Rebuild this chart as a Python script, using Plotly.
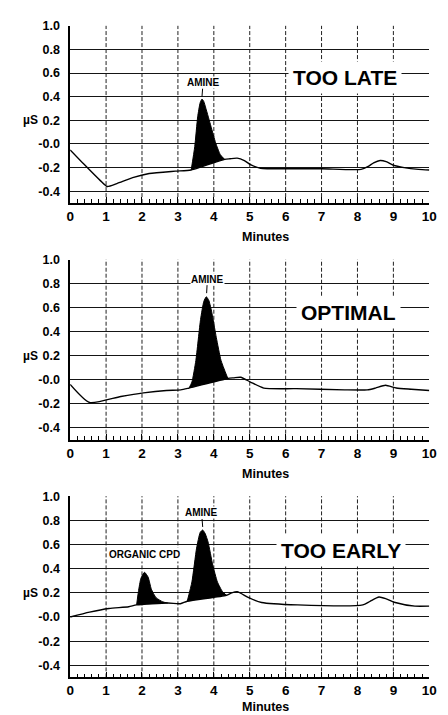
import plotly.graph_objects as go

# ---------------- data ----------------
# Panel 1: TOO LATE
late_x = [0, 0.38, 0.84, 1.03, 1.3, 1.74, 2.2, 2.93, 3.37, 4.3, 4.45, 4.65, 4.85, 5.05, 5.3,
          6, 7, 8.1, 8.3, 8.45, 8.63, 8.8, 9.0, 9.3, 9.7, 10]
late_y = [-0.05, -0.17, -0.31, -0.36, -0.335, -0.285, -0.25, -0.23, -0.22, -0.13, -0.125, -0.12,
          -0.14, -0.18, -0.205, -0.21, -0.21, -0.215, -0.19, -0.16, -0.14, -0.15, -0.18, -0.2,
          -0.215, -0.22]
late_amine_x = [3.37, 3.47, 3.55, 3.62, 3.67, 3.72, 3.78, 3.92, 4.05, 4.18, 4.3]
late_amine_y = [-0.22, -0.02, 0.23, 0.35, 0.38, 0.36, 0.30, 0.15, 0.01, -0.09, -0.13]

# Panel 2: OPTIMAL
opt_x = [0, 0.54, 1.41, 2.04, 2.68, 3.08, 3.31, 4.39, 4.55, 4.75, 5.02, 5.39, 6.29, 7.64,
         8.27, 8.5, 8.78, 9.08, 9.5, 10]
opt_y = [-0.04, -0.19, -0.14, -0.11, -0.09, -0.085, -0.07, 0.01, 0.015, 0.02, -0.02, -0.07,
         -0.075, -0.085, -0.085, -0.07, -0.047, -0.07, -0.08, -0.09]
opt_amine_x = [3.31, 3.39, 3.5, 3.63, 3.72, 3.79, 3.86, 3.93, 4.07, 4.2, 4.39]
opt_amine_y = [-0.07, -0.02, 0.16, 0.5, 0.65, 0.69, 0.66, 0.58, 0.35, 0.16, 0.01]

# Panel 3: TOO EARLY
early_x = [0, 0.54, 1.08, 1.63, 1.85, 2.72, 3.07, 3.26, 4.35, 4.5, 4.65, 4.97, 5.33, 6.33,
           8.15, 8.35, 8.6, 8.8, 9.05, 9.6, 10]
early_y = [0.0, 0.04, 0.07, 0.085, 0.1, 0.115, 0.11, 0.13, 0.18, 0.2, 0.21, 0.16, 0.12, 0.1,
           0.1, 0.13, 0.165, 0.15, 0.12, 0.09, 0.09]
early_org_x = [1.85, 1.9, 1.97, 2.07, 2.17, 2.26, 2.39, 2.58, 2.72]
early_org_y = [0.1, 0.21, 0.32, 0.37, 0.33, 0.23, 0.16, 0.125, 0.115]
early_amine_x = [3.26, 3.39, 3.52, 3.62, 3.69, 3.76, 3.84, 3.97, 4.1, 4.24, 4.35]
early_amine_y = [0.13, 0.29, 0.57, 0.70, 0.72, 0.69, 0.62, 0.43, 0.29, 0.21, 0.18]

# axes / ticks
y_tick_vals = [1.0, 0.8, 0.6, 0.4, 0.2, 0.0, -0.2, -0.4]
y_tick_text = ["1.0", "0.8", "0.6", "0.4", "0.2", "-0.0", "-0.2", "-0.4"]
y_grid_vals = [0.8, 0.6, 0.4, 0.2, 0.0, -0.2, -0.4]
x_tick_vals = [0, 1, 2, 3, 4, 5, 6, 7, 8, 9, 10]
x_tick_text = ["0", "1", "2", "3", "4", "5", "6", "7", "8", "9", "10"]
x_minor_vals = [i / 5 for i in range(0, 51)]
x_grid_vals = [1, 2, 3, 4, 5, 6, 7, 8, 9]

panel_titles = ["TOO LATE", "OPTIMAL", "TOO EARLY"]
title_pos = [(7.64, 0.565), (7.75, 0.56), (7.55, 0.55)]
amine_label = [(3.67, 0.40, 3.7), (3.8, 0.72, 3.82), (3.69, 0.745, 3.66)]
organic_label = (2.07, 0.52)
minutes_shift = [-34, -34, -30]

# ---------------- figure ----------------
FONT = "Liberation Sans, Arial, Helvetica, sans-serif"
W, H = 448, 715
x_dom = [68 / W, 437 / W]
y_doms = [[1 - 198 / H, 1 - 19 / H], [1 - 437 / H, 1 - 255 / H], [1 - 677 / H, 1 - 494 / H]]

fig = go.Figure()

series = [
    (late_x, late_y, [(late_amine_x, late_amine_y)]),
    (opt_x, opt_y, [(opt_amine_x, opt_amine_y)]),
    (early_x, early_y, [(early_org_x, early_org_y), (early_amine_x, early_amine_y)]),
]

for i, (bx, by, peaks) in enumerate(series):
    sfx = "" if i == 0 else str(i + 1)
    xa, ya = "x" + sfx, "y" + sfx
    for px, py in peaks:
        fig.add_trace(go.Scatter(x=px, y=py, xaxis=xa, yaxis=ya, mode="lines",
                                 fill="toself", fillcolor="black",
                                 line=dict(color="black", width=1, shape="spline", smoothing=0.5),
                                 hoverinfo="skip", showlegend=False))
    fig.add_trace(go.Scatter(x=bx, y=by, xaxis=xa, yaxis=ya, mode="lines",
                             line=dict(color="black", width=1.4, shape="spline", smoothing=0.6),
                             showlegend=False))

    fig.layout["xaxis" + sfx] = dict(
        domain=x_dom, range=[0, 10], anchor=ya,
        tickmode="array", tickvals=x_tick_vals, ticktext=x_tick_text,
        ticks="inside", ticklen=6, tickwidth=1.2, tickcolor="black",
        showgrid=False, zeroline=False,
        showline=True, linecolor="black", linewidth=1.6,
        tickfont=dict(family=FONT, size=13.5, color="black", weight="bold"),
        minor=dict(tickmode="array", tickvals=x_minor_vals, ticks="inside",
                   ticklen=4, tickwidth=1, tickcolor="black", showgrid=False),
    )
    fig.layout["yaxis" + sfx] = dict(
        domain=y_doms[i], range=[-0.5, 1.0], anchor=xa,
        tickmode="array", tickvals=y_tick_vals, ticktext=y_tick_text,
        ticks="", ticklabelstandoff=6,
        showgrid=False, zeroline=False,
        showline=True, linecolor="black", linewidth=1.6,
        tickfont=dict(family=FONT, size=12.5, color="black", weight="bold"),
        minor=dict(tickmode="array", tickvals=y_grid_vals, ticks="",
                   showgrid=True, gridcolor="#151515", gridwidth=1.2),
    )

    for gx in x_grid_vals:
        fig.add_shape(type="line", xref=xa, yref=ya + " domain", x0=gx, x1=gx, y0=0, y1=1,
                      line=dict(color="#222222", width=1, dash="4px,2px"), layer="below")

    tx, ty = title_pos[i]
    fig.add_annotation(xref=xa, yref=ya, x=tx, y=ty, text=panel_titles[i], showarrow=False,
                       bgcolor="white", borderpad=4,
                       font=dict(family=FONT, size=21, color="black", weight="bold"))

    ax_, ay_, tx_ = amine_label[i]
    fig.add_annotation(xref=xa, yref=ya, x=ax_, y=ay_, text="AMINE", showarrow=True,
                       arrowhead=0, arrowwidth=1, arrowcolor="black",
                       ax=(tx_ - ax_) * 36.9, ay=-14, bgcolor="white", borderpad=0,
                       font=dict(family=FONT, size=10, color="black", weight="bold"))

    fig.add_annotation(xref="paper", yref=ya, x=17.5 / W, y=0.2, text="µS", showarrow=False,
                       font=dict(family=FONT, size=12, color="black", weight="bold"))

    fig.add_annotation(xref=xa, yref=ya + " domain", x=5.45, y=0, yshift=minutes_shift[i],
                       yanchor="middle", text="Minutes", showarrow=False,
                       font=dict(family=FONT, size=12.5, color="black", weight="bold"))

fig.add_annotation(xref="x3", yref="y3", x=organic_label[0], y=organic_label[1],
                   text="ORGANIC CPD", showarrow=False, bgcolor="white", borderpad=1,
                   font=dict(family=FONT, size=10, color="black", weight="bold"))

fig.update_layout(width=W, height=H, margin=dict(l=0, r=0, t=0, b=0),
                  paper_bgcolor="white", plot_bgcolor="white", showlegend=False)

fig.write_html("out.html")
